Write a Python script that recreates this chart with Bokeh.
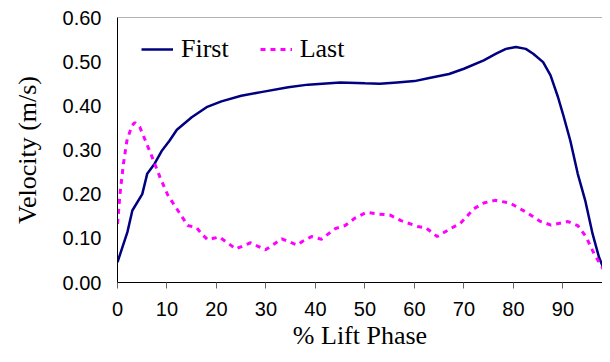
from bokeh.plotting import figure
from bokeh.models import Range1d, Span, Legend, LegendItem, FixedTicker
from bokeh.embed import file_html
from bokeh.resources import INLINE

# "First" series
first_x = [0, 2, 3, 5, 6, 7.5, 9, 10.5, 12, 15, 18, 21, 25, 29, 34.5, 38.5, 45, 50, 53,
           56.5, 60, 63, 67, 70, 74, 76.5, 78.5, 80.5, 82.5, 84, 86, 87.5, 89, 90, 91.5,
           93, 94.5, 96, 97.3, 98.7]
first_v = [0.046, 0.114, 0.163, 0.200, 0.246, 0.269, 0.299, 0.321, 0.346, 0.374, 0.397,
           0.410, 0.423, 0.431, 0.442, 0.448, 0.453, 0.451, 0.450, 0.453, 0.456, 0.463,
           0.472, 0.484, 0.503, 0.518, 0.529, 0.533, 0.529, 0.518, 0.499, 0.469, 0.420,
           0.382, 0.321, 0.246, 0.186, 0.110, 0.057, 0.018]

# "Last" series
last_x = [0, 0.5, 1.2, 1.9, 2.9, 3.5, 4.5, 5.5, 7, 8.6, 10.2, 12.2, 14.2, 16, 17, 18.2,
          19.4, 20.6, 22.2, 23.9, 25.4, 26.9, 28.4, 29.9, 31.5, 33.2, 34.7, 36.3, 37.5,
          39.2, 41.2, 44, 46, 48, 50.3, 52.6, 55, 57.3, 60.6, 62.3, 64.6, 67.3, 69.3,
          72, 74, 76.3, 79.3, 82.6, 85.3, 87.6, 91, 93, 94.7, 96.3, 98.7]
last_v = [0.133, 0.200, 0.269, 0.321, 0.355, 0.362, 0.352, 0.325, 0.284, 0.238, 0.197,
          0.163, 0.129, 0.124, 0.110, 0.097, 0.100, 0.103, 0.090, 0.076, 0.083, 0.090,
          0.082, 0.074, 0.086, 0.099, 0.092, 0.085, 0.094, 0.104, 0.098, 0.122, 0.129,
          0.146, 0.159, 0.155, 0.153, 0.140, 0.127, 0.124, 0.104, 0.122, 0.134, 0.167,
          0.180, 0.186, 0.180, 0.159, 0.139, 0.130, 0.138, 0.129, 0.103, 0.065, 0.020]

x_ticks = [0, 10, 20, 30, 40, 50, 60, 70, 80, 90]
y_ticks = [0.0, 0.1, 0.2, 0.3, 0.4, 0.5, 0.6]
y_tick_labels = {0.0: "0.00", 0.1: "0.10", 0.2: "0.20", 0.3: "0.30", 0.4: "0.40",
                 0.5: "0.50", 0.6: "0.60"}

p = figure(width=602, height=354, output_backend="svg", toolbar_location=None,
           x_range=Range1d(0, 98), y_range=Range1d(0, 0.6),
           min_border_left=117, min_border_right=0, min_border_top=17,
           min_border_bottom=72)
p.outline_line_color = None
p.xgrid.visible = False
p.ygrid.visible = False
p.background_fill_color = "white"
p.border_fill_color = "white"

r1 = p.line(first_x, first_v, line_color="#000080", line_width=2.5)
r2 = p.line(last_x, last_v, line_color="#FF00FF", line_width=3, line_dash="5 5")

p.add_layout(Span(location=0.6, dimension="width", line_color="#666666", line_width=1))

xa = p.xaxis[0]
xa.ticker = FixedTicker(ticks=x_ticks)
xa.axis_line_color = "black"
xa.major_tick_out = 6
xa.major_tick_in = 0
xa.major_tick_line_color = "#666666"
xa.minor_tick_line_color = None
xa.major_label_text_font = "Liberation Sans"
xa.major_label_text_font_size = "20px"
xa.major_label_text_color = "black"
xa.major_label_standoff = 13
xa.axis_label = "% Lift Phase"
xa.axis_label_text_font = "Liberation Serif"
xa.axis_label_text_font_size = "26px"
xa.axis_label_text_font_style = "normal"
xa.axis_label_text_color = "black"
xa.axis_label_standoff = 2

ya = p.yaxis[0]
ya.ticker = FixedTicker(ticks=y_ticks)
ya.major_label_overrides = y_tick_labels
ya.axis_line_color = "black"
ya.major_tick_out = 0
ya.major_tick_in = 0
ya.major_tick_line_color = None
ya.minor_tick_line_color = None
ya.major_label_text_font = "Liberation Sans"
ya.major_label_text_font_size = "20px"
ya.major_label_text_color = "black"
ya.major_label_standoff = 16
ya.axis_label = "Velocity (m/s)"
ya.axis_label_text_font = "Liberation Serif"
ya.axis_label_text_font_size = "26px"
ya.axis_label_text_font_style = "normal"
ya.axis_label_text_color = "black"
ya.axis_label_standoff = 18

legend = Legend(items=[LegendItem(label="First", renderers=[r1]),
                       LegendItem(label="Last", renderers=[r2])],
                orientation="horizontal", location=(24, 218))
legend.padding = 0
legend.margin = 0
legend.spacing = 31
legend.glyph_width = 32
legend.label_standoff = 8
legend.label_text_font = "Liberation Serif"
legend.label_text_font_size = "26px"
legend.label_text_color = "black"
legend.background_fill_alpha = 0
legend.border_line_color = None
p.add_layout(legend)

open("out.html", "w").write(file_html(p, INLINE))
